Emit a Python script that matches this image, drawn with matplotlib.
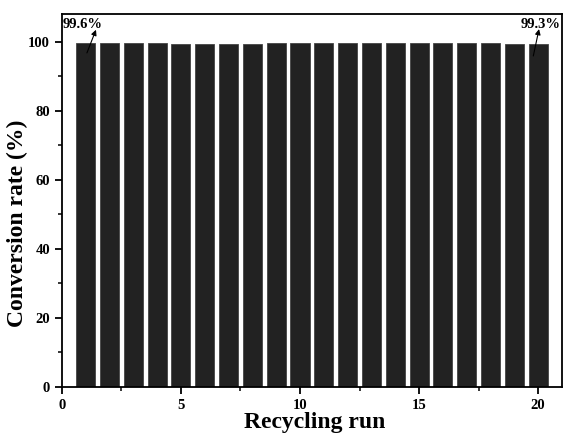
import matplotlib
matplotlib.use("Agg")
import matplotlib.pyplot as plt
from matplotlib.ticker import MultipleLocator

runs = list(range(1, 21))
conversion = [99.6, 99.5, 99.5, 99.5, 99.4, 99.4, 99.4, 99.4, 99.5, 99.5,
              99.5, 99.6, 99.7, 99.7, 99.6, 99.6, 99.6, 99.5, 99.4, 99.3]
first_label = "99.6%"
last_label = "99.3%"

plt.rcParams['font.family'] = ['Liberation Serif', 'DejaVu Serif']
plt.rcParams['font.weight'] = 'bold'

fig = plt.figure(figsize=(5.63, 4.34), dpi=100)
ax = fig.add_axes([0.110, 0.109, 0.888, 0.859])

ax.bar(runs, conversion, width=0.8, color='#222222', edgecolor='#444444', linewidth=0.6)

ax.set_xlim(0, 21)
ax.set_ylim(0, 108)
ax.xaxis.set_major_locator(MultipleLocator(5))
ax.xaxis.set_minor_locator(MultipleLocator(2.5))
ax.yaxis.set_major_locator(MultipleLocator(20))
ax.yaxis.set_minor_locator(MultipleLocator(10))
ax.tick_params(which='major', direction='out', length=5, width=1.3, labelsize=10.5)
ax.tick_params(axis='x', which='major', pad=4)
ax.tick_params(which='minor', direction='out', length=3, width=1.1)
ax.tick_params(top=False, right=False)
for lab in ax.get_xticklabels() + ax.get_yticklabels():
    lab.set_fontweight('bold')
for s in ax.spines.values():
    s.set_linewidth(1.3)

ax.set_xlabel("Recycling run", fontsize=17, fontweight='bold')
ax.set_ylabel("Conversion rate (%)", fontsize=17, fontweight='bold')
ax.xaxis.set_label_coords(0.506, -0.068)
ax.yaxis.set_label_coords(-0.068, 0.437)

arrow_style = dict(arrowstyle='-|>', color='black', lw=0.8, mutation_scale=8,
                   shrinkA=0, shrinkB=0)
ax.text(0.88, 105, first_label, ha='center', va='center', fontsize=10.5, fontweight='bold')
ax.annotate("", xy=(1.43, 103.4), xytext=(1.05, 96.7), arrowprops=arrow_style)
ax.annotate("", xy=(20.04, 103.6), xytext=(19.8, 95.8), arrowprops=arrow_style)
ax.text(20.1, 105, last_label, ha='center', va='center', fontsize=10.5, fontweight='bold')

fig.savefig("out.png", dpi=100)
